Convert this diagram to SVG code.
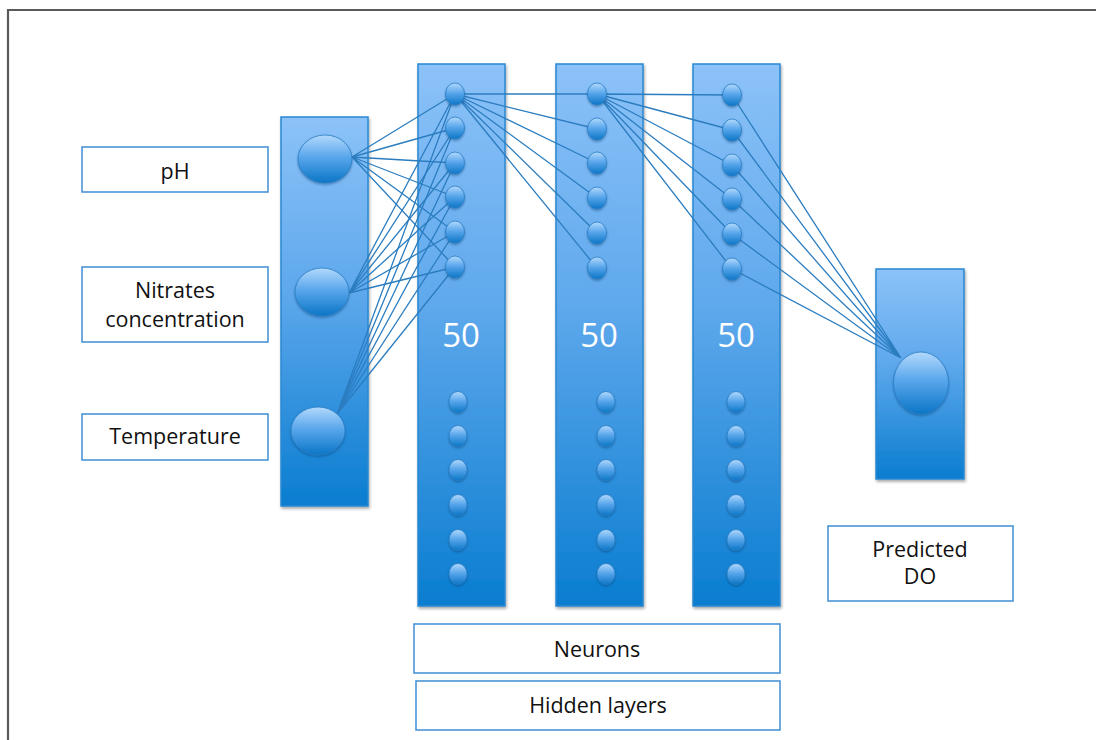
<svg xmlns="http://www.w3.org/2000/svg" width="1096" height="740" viewBox="0 0 1096 740">
  <defs>
    <linearGradient id="panelFill" x1="0" y1="0" x2="0" y2="1">
      <stop offset="0" stop-color="#8cc2f8"/>
      <stop offset="0.45" stop-color="#5ea8ec"/>
      <stop offset="1" stop-color="#0a7dd0"/>
    </linearGradient>
    <linearGradient id="nodeFill" x1="0" y1="0" x2="0" y2="1">
      <stop offset="0" stop-color="#b2d9fc"/>
      <stop offset="0.45" stop-color="#5aa7ec"/>
      <stop offset="1" stop-color="#0b76c6"/>
    </linearGradient>
    <filter id="shadow" x="-20%" y="-10%" width="140%" height="125%">
      <feDropShadow dx="1" dy="2" stdDeviation="1.6" flood-color="#000" flood-opacity="0.35"/>
    </filter>
    <filter id="nodeShadow" x="-40%" y="-40%" width="180%" height="190%">
      <feDropShadow dx="0" dy="1.5" stdDeviation="1.2" flood-color="#003a70" flood-opacity="0.45"/>
    </filter>
  </defs>
  <style>
    .panel { fill: url(#panelFill); stroke: #2a88d2; stroke-width: 1.5; filter: url(#shadow); }
    .node { fill: url(#nodeFill); stroke: #2a7fc6; stroke-width: 0.8; filter: url(#nodeShadow); }
    .box { fill: #ffffff; stroke: #4a95d6; stroke-width: 1.6; }
    .label { font-family: "Open Sans", "Liberation Sans", sans-serif; font-size: 21.5px; fill: #111111; text-anchor: middle; }
    .count { font-family: "Open Sans", "Liberation Sans", sans-serif; font-size: 33px; fill: #ffffff; text-anchor: middle; }
    .edge { stroke: #2b7dc0; stroke-width: 1.3; fill: none; }
  </style>

  <rect width="1096" height="740" fill="#ffffff"/>
  <!-- page frame -->
  <path d="M8 740 V10 H1096" fill="none" stroke="#5a5a5a" stroke-width="2.2"/>

  <!-- layer panels -->
  <g id="panels">
    <rect id="input-panel" class="panel" x="281" y="117" width="87" height="389"/>
    <rect id="hidden1-panel" class="panel" x="418" y="64" width="87" height="542"/>
    <rect id="hidden2-panel" class="panel" x="556" y="64" width="87" height="542"/>
    <rect id="hidden3-panel" class="panel" x="693" y="64" width="87" height="542"/>
    <rect id="output-panel" class="panel" x="876" y="269" width="88" height="210"/>
    <text class="count" x="461" y="347">50</text>
    <text class="count" x="599" y="347">50</text>
    <text class="count" x="736" y="347">50</text>
  </g>

  <!-- weights between layers -->
  <g id="connectors" class="edge">
    <!-- inputs to first hidden layer -->
    <path d="M352 157 L455 94 M352 157 L455 128 M352 157 L455 163 M352 157 L455 197 M352 157 L455 232 M352 157 L455 267"/>
    <path d="M349 293 L455 94 M349 293 L455 128 M349 293 L455 163 M349 293 L455 197 M349 293 L455 232 M349 293 L455 267"/>
    <path d="M337 414 L455 94 M337 414 L455 128 M337 414 L455 163 M337 414 L455 197 M337 414 L455 232 M337 414 L455 267"/>
    <!-- first to second hidden layer -->
    <path d="M455 94 L597 94 M455 94 L597 129 M455 94 L597 163 M455 94 L597 198 M455 94 L597 233 M455 94 L597 268"/>
    <!-- second to third hidden layer -->
    <path d="M597 94 L732 95 M597 94 L732 130 M597 94 L732 165 M597 94 L732 199 M597 94 L732 234 M597 94 L732 269"/>
    <!-- third hidden layer to output -->
    <path d="M732 95 L901 358 M732 130 L901 358 M732 165 L901 358 M732 199 L901 358 M732 234 L901 358 M732 269 L901 358"/>
  </g>

  <!-- input neurons -->
  <g id="input-ph"><ellipse class="node" cx="325" cy="159" rx="27" ry="24"/></g>
  <g id="input-nitrates"><ellipse class="node" cx="322" cy="292" rx="27" ry="24"/></g>
  <g id="input-temperature"><ellipse class="node" cx="318" cy="431" rx="27" ry="24"/></g>

  <!-- hidden layer 1 -->
  <g id="hidden1">
    <ellipse class="node" cx="455" cy="94" rx="9.5" ry="11"/>
    <ellipse class="node" cx="455" cy="128" rx="9.5" ry="11"/>
    <ellipse class="node" cx="455" cy="163" rx="9.5" ry="11"/>
    <ellipse class="node" cx="455" cy="197" rx="9.5" ry="11"/>
    <ellipse class="node" cx="455" cy="232" rx="9.5" ry="11"/>
    <ellipse class="node" cx="455" cy="267" rx="9.5" ry="11"/>
    <ellipse class="node" cx="458" cy="402" rx="9" ry="10.5"/>
    <ellipse class="node" cx="458" cy="436" rx="9" ry="10.5"/>
    <ellipse class="node" cx="458" cy="470" rx="9" ry="10.5"/>
    <ellipse class="node" cx="458" cy="505" rx="9" ry="10.5"/>
    <ellipse class="node" cx="458" cy="540" rx="9" ry="10.5"/>
    <ellipse class="node" cx="458" cy="574" rx="9" ry="10.5"/>
  </g>

  <!-- hidden layer 2 -->
  <g id="hidden2">
    <ellipse class="node" cx="597" cy="94" rx="9.5" ry="11"/>
    <ellipse class="node" cx="597" cy="129" rx="9.5" ry="11"/>
    <ellipse class="node" cx="597" cy="163" rx="9.5" ry="11"/>
    <ellipse class="node" cx="597" cy="198" rx="9.5" ry="11"/>
    <ellipse class="node" cx="597" cy="233" rx="9.5" ry="11"/>
    <ellipse class="node" cx="597" cy="268" rx="9.5" ry="11"/>
    <ellipse class="node" cx="606" cy="402" rx="9" ry="10.5"/>
    <ellipse class="node" cx="606" cy="436" rx="9" ry="10.5"/>
    <ellipse class="node" cx="606" cy="470" rx="9" ry="10.5"/>
    <ellipse class="node" cx="606" cy="505" rx="9" ry="10.5"/>
    <ellipse class="node" cx="606" cy="540" rx="9" ry="10.5"/>
    <ellipse class="node" cx="606" cy="574" rx="9" ry="10.5"/>
  </g>

  <!-- hidden layer 3 -->
  <g id="hidden3">
    <ellipse class="node" cx="732" cy="95" rx="9.5" ry="11"/>
    <ellipse class="node" cx="732" cy="130" rx="9.5" ry="11"/>
    <ellipse class="node" cx="732" cy="165" rx="9.5" ry="11"/>
    <ellipse class="node" cx="732" cy="199" rx="9.5" ry="11"/>
    <ellipse class="node" cx="732" cy="234" rx="9.5" ry="11"/>
    <ellipse class="node" cx="732" cy="269" rx="9.5" ry="11"/>
    <ellipse class="node" cx="736" cy="402" rx="9" ry="10.5"/>
    <ellipse class="node" cx="736" cy="436" rx="9" ry="10.5"/>
    <ellipse class="node" cx="736" cy="470" rx="9" ry="10.5"/>
    <ellipse class="node" cx="736" cy="505" rx="9" ry="10.5"/>
    <ellipse class="node" cx="736" cy="540" rx="9" ry="10.5"/>
    <ellipse class="node" cx="736" cy="574" rx="9" ry="10.5"/>
  </g>

  <!-- output neuron -->
  <g id="output-do"><ellipse class="node" cx="921" cy="383" rx="27.5" ry="31"/></g>

  <!-- captions -->
  <g id="label-ph">
    <rect class="box" x="82" y="147" width="186" height="45"/>
    <text class="label" x="175" y="179">pH</text>
  </g>
  <g id="label-nitrates">
    <rect class="box" x="82" y="267" width="186" height="75"/>
    <text class="label" x="175" y="298">Nitrates</text>
    <text class="label" x="175" y="326.5">concentration</text>
  </g>
  <g id="label-temperature">
    <rect class="box" x="82" y="414" width="186" height="46"/>
    <text class="label" x="175" y="444">Temperature</text>
  </g>
  <g id="label-neurons">
    <rect class="box" x="414" y="624" width="366" height="49"/>
    <text class="label" x="597" y="657">Neurons</text>
  </g>
  <g id="label-hidden-layers">
    <rect class="box" x="416" y="681" width="364" height="49"/>
    <text class="label" x="598" y="713">Hidden layers</text>
  </g>
  <g id="label-predicted">
    <rect class="box" x="828" y="526" width="185" height="75"/>
    <text class="label" x="920" y="556.5">Predicted</text>
    <text class="label" x="920" y="583.5">DO</text>
  </g>
</svg>
